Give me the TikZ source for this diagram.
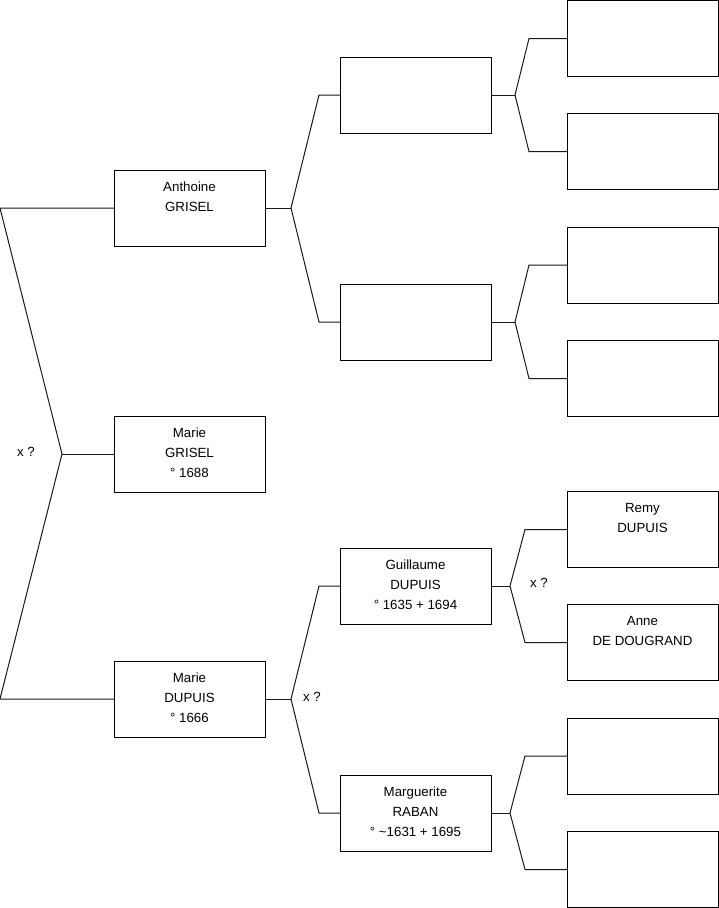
\documentclass[tikz,border=0pt]{standalone}
\usepackage{fontspec}
\setmainfont{Liberation Sans}
\usetikzlibrary{positioning,calc}
\tikzset{
    personbox/.style={draw, line width=1pt, minimum width=151pt, minimum height=76pt,
        inner sep=0pt, outer sep=0pt},
    persontext/.style={align=center, inner sep=0pt,
        font=\fontsize{13.3}{20}\selectfont},
    marriage/.style={font=\fontsize{13.3}{15}\selectfont, inner sep=0pt},
    famlink/.style={line width=1pt, black!90}
}
% parent box, father box, mother box, fork offset, bend offset
\newcommand{\famfork}[5]{%
    \draw[famlink] (#1.east) -- ++(#4,0) coordinate (#1-fk);
    \draw[famlink] (#1-fk) -- ($(#2.west)+(-#5,0)$) -- (#2.west);
    \draw[famlink] (#1-fk) -- ($(#3.west)+(-#5,0)$) -- (#3.west);
}

\begin{document}
\begin{tikzpicture}[x=1pt, y=-1pt]
\useasboundingbox (0,0) rectangle (719,908);

% generation 1
\node[personbox] (anthoine) at (189.5,208) {};
\node[personbox] (marieG) at (189.5,454) {};
\node[personbox] (marieD) at (189.5,699) {};
\node[persontext, below=12pt of anthoine.north] (anthoinetxt) {Anthoine\\GRISEL};
\node[persontext, below=12pt of marieG.north] (marieGtxt) {Marie\\GRISEL\\° 1688};
\node[persontext, below=12pt of marieD.north] (marieDtxt) {Marie\\DUPUIS\\° 1666};

% generation 2
\node[personbox] (pA1) at (415.5,95) {};
\node[personbox] (pA2) at (415.5,322) {};
\node[personbox] (guillaume) at (415.5,586) {};
\node[personbox] (marguerite) at (415.5,813) {};
\node[persontext, below=12pt of guillaume.north] (guillaumetxt) {Guillaume\\DUPUIS\\° 1635 + 1694};
\node[persontext, below=12pt of marguerite.north] (margueritetxt) {Marguerite\\RABAN\\° \textasciitilde1631 + 1695};

% generation 3
\node[personbox] (pB1) at (642.5,38.5) {};
\node[personbox] (pB2) at (642.5,151.5) {};
\node[personbox] (pB3) at (642.5,265) {};
\node[personbox] (pB4) at (642.5,378.5) {};
\node[personbox] (remy) at (642.5,529.5) {};
\node[personbox] (anne) at (642.5,642.5) {};
\node[personbox] (pB7) at (642.5,756) {};
\node[personbox] (pB8) at (642.5,869.5) {};
\node[persontext, below=12pt of remy.north] (remytxt) {Remy\\DUPUIS};
\node[persontext, below=12pt of anne.north] (annetxt) {Anne\\DE DOUGRAND};

% links
\coordinate (root) at (62,454);
\draw[famlink] (marieG.west) -- (root);
\draw[famlink] (root) -- ($(anthoine.west)+(-114,0)$) -- (anthoine.west);
\draw[famlink] (root) -- ($(marieD.west)+(-114,0)$) -- (marieD.west);
\famfork{anthoine}{pA1}{pA2}{26}{21}
\famfork{marieD}{guillaume}{marguerite}{26}{21}
\famfork{pA1}{pB1}{pB2}{24}{38}
\famfork{pA2}{pB3}{pB4}{24}{38}
\famfork{guillaume}{remy}{anne}{19}{42}
\famfork{marguerite}{pB7}{pB8}{19}{42}

% marriage marks
\node[marriage] (xroot) at (26,452) {x ?};
\node[marriage] (xmarieD) at (312,697) {x ?};
\node[marriage] (xguillaume) at (539,583) {x ?};
\end{tikzpicture}
\end{document}
